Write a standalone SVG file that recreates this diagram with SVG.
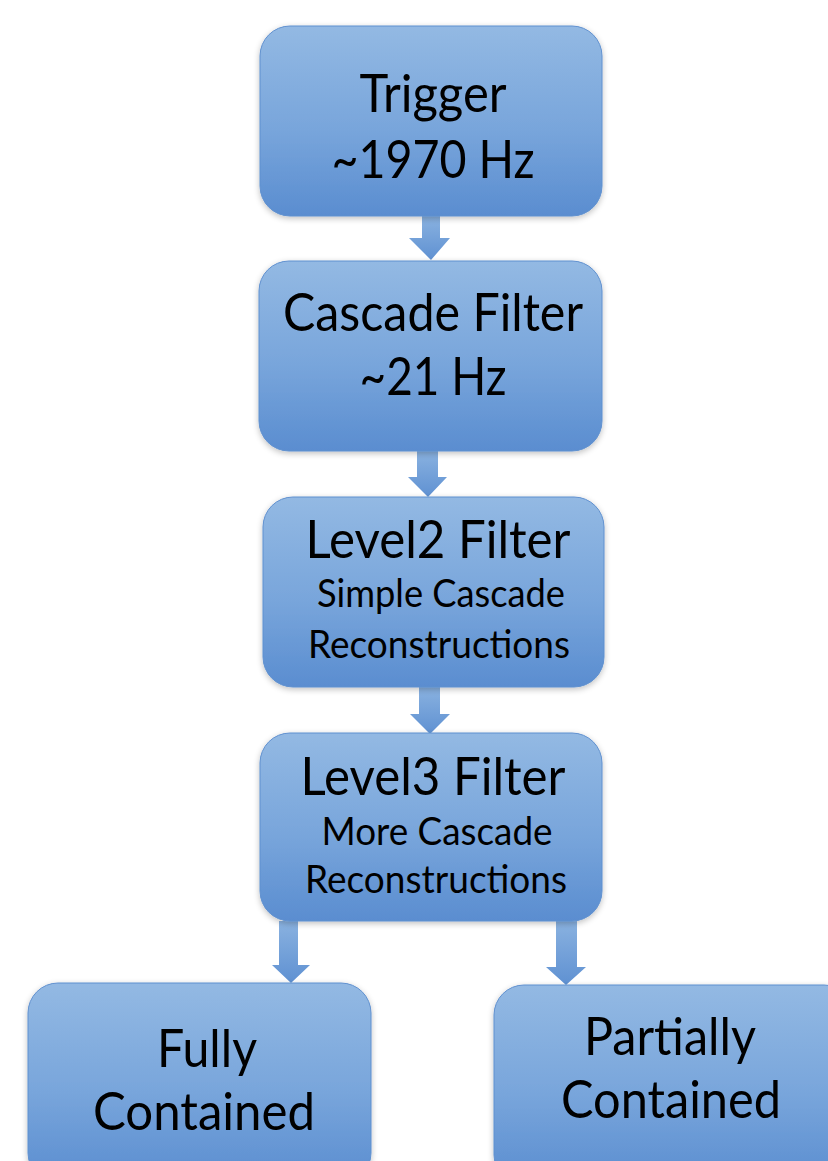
<svg xmlns="http://www.w3.org/2000/svg" width="828" height="1161" viewBox="0 0 828 1161">
<defs>
<linearGradient id="boxGrad" x1="0" y1="0" x2="0" y2="1">
<stop offset="0" stop-color="#93b9e3"/>
<stop offset="0.55" stop-color="#78a5db"/>
<stop offset="1" stop-color="#5a8dd0"/>
</linearGradient>
<linearGradient id="arrowGrad" x1="0" y1="0" x2="0" y2="1">
<stop offset="0" stop-color="#8ab2e0"/>
<stop offset="1" stop-color="#5f91d2"/>
</linearGradient>
<filter id="shadow" x="-10%" y="-10%" width="120%" height="125%">
<feGaussianBlur in="SourceAlpha" stdDeviation="3"/>
<feOffset dx="0" dy="2" result="b"/>
<feComponentTransfer><feFuncA type="linear" slope="0.25"/></feComponentTransfer>
<feMerge><feMergeNode/><feMergeNode in="SourceGraphic"/></feMerge>
</filter>
</defs>
<style>
.box{fill:url(#boxGrad);stroke:#5f90cf;stroke-width:1;filter:url(#shadow)}
.arrow{fill:url(#arrowGrad);stroke:none}
.big{font-family:Lato,"Open Sans",sans-serif;font-size:52px;fill:#000;text-anchor:middle}
.small{font-family:Lato,"Open Sans",sans-serif;font-size:39px;fill:#000;text-anchor:middle}
</style>
<rect width="828" height="1161" fill="#ffffff"/>
<g id="connectors">
<path class="arrow" d="M422,216 H440 V238 H450 L431,260 L409,238 H422 Z"/>
<path class="arrow" d="M417,451 H438 V477 H447 L428,497 L408,477 H417 Z"/>
<path class="arrow" d="M419,687 H440 V714 H450 L430,734 L410,714 H419 Z"/>
<path class="arrow" d="M279,921 H298 V965 H310 L291,983 L272,965 H279 Z"/>
<path class="arrow" d="M556,921 H577 V967 H586 L566,985 L546,967 H556 Z"/>
</g>
<g id="trigger">
<rect class="box" x="260" y="26" width="342" height="190" rx="30"/>
<text class="big" x="433" y="112" textLength="147" lengthAdjust="spacingAndGlyphs">Trigger</text>
<text class="big" x="433" y="178" textLength="203" lengthAdjust="spacingAndGlyphs">~1970 Hz</text>
</g>
<g id="cascade">
<rect class="box" x="259" y="261" width="343" height="190" rx="30"/>
<text class="big" x="433" y="331" textLength="300" lengthAdjust="spacingAndGlyphs">Cascade Filter</text>
<text class="big" x="433" y="395" textLength="147" lengthAdjust="spacingAndGlyphs">~21 Hz</text>
</g>
<g id="level2">
<rect class="box" x="263" y="497" width="341" height="190" rx="30"/>
<text class="big" x="438" y="558" textLength="265" lengthAdjust="spacingAndGlyphs">Level2 Filter</text>
<text class="small" x="441" y="607" textLength="248" lengthAdjust="spacingAndGlyphs">Simple Cascade</text>
<text class="small" x="439" y="658" textLength="262" lengthAdjust="spacingAndGlyphs">Reconstructions</text>
</g>
<g id="level3">
<rect class="box" x="260" y="733" width="342" height="188" rx="30"/>
<text class="big" x="433" y="795" textLength="265" lengthAdjust="spacingAndGlyphs">Level3 Filter</text>
<text class="small" x="437" y="845" textLength="231" lengthAdjust="spacingAndGlyphs">More Cascade</text>
<text class="small" x="436" y="893" textLength="262" lengthAdjust="spacingAndGlyphs">Reconstructions</text>
</g>
<g id="fully">
<rect class="box" x="28" y="983" width="343" height="200" rx="30"/>
<text class="big" x="207" y="1067" textLength="100" lengthAdjust="spacingAndGlyphs">Fully</text>
<text class="big" x="204" y="1130" textLength="222" lengthAdjust="spacingAndGlyphs">Contained</text>
</g>
<g id="partially">
<rect class="box" x="494" y="985" width="360" height="200" rx="30"/>
<text class="big" x="670" y="1055" textLength="172" lengthAdjust="spacingAndGlyphs">Partially</text>
<text class="big" x="671" y="1118" textLength="220" lengthAdjust="spacingAndGlyphs">Contained</text>
</g>
</svg>
